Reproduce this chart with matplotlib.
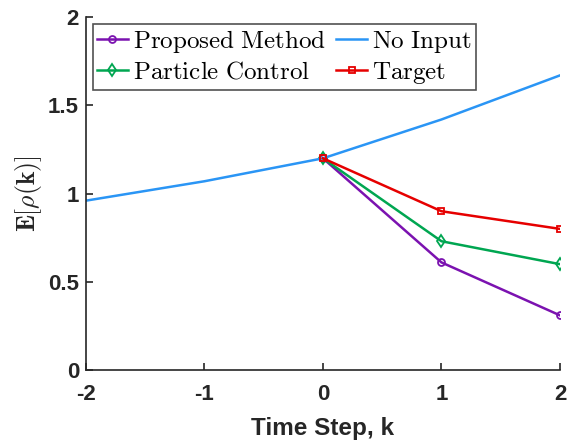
import numpy as np
import matplotlib
matplotlib.use('Agg')
import matplotlib.pyplot as plt

plt.rcParams['mathtext.fontset'] = 'cm'

steps_hist = [-2, -1, 0, 1, 2]
no_input = [0.96, 1.07, 1.20, 1.42, 1.67]

steps = [0, 1, 2]
proposed = [1.20, 0.61, 0.31]
particle = [1.20, 0.73, 0.60]
target = [1.20, 0.90, 0.80]

fig = plt.figure(figsize=(5.69, 4.4), dpi=100)
ax = fig.add_axes([0.1511, 0.159, 0.833, 0.802])

ax.plot(steps, proposed, color='#7B12B0', lw=1.8, marker='o', ms=5, mfc='none', mew=1.3,
        label=r'$\mathrm{Proposed\ Method}$')
ax.plot(steps, particle, color='#00A651', lw=1.8, marker='d', ms=6, mfc='none', mew=1.3,
        label=r'$\mathrm{Particle\ Control}$')
ax.plot(steps_hist, no_input, color='#2A95F5', lw=1.8, label=r'$\mathrm{No\ Input}$')
ax.plot(steps, target, color='#E60000', lw=1.8, marker='s', ms=5, mfc='none', mew=1.3,
        label=r'$\mathrm{Target}$')

ax.set_xlim(-2, 2)
ax.set_ylim(0, 2)
ax.set_xticks([-2, -1, 0, 1, 2])
ax.set_yticks([0, 0.5, 1, 1.5, 2])
ax.set_xticklabels(['-2', '-1', '0', '1', '2'])
ax.set_yticklabels(['0', '0.5', '1', '1.5', '2'])
for lab in ax.get_xticklabels() + ax.get_yticklabels():
    lab.set_fontfamily('Liberation Sans')
    lab.set_fontweight('bold')
    lab.set_fontsize(16)
ax.tick_params(direction='in', length=5, width=1.2, colors='#262626')
ax.tick_params(axis='x', pad=10)
ax.tick_params(axis='y', pad=5)
ax.spines['top'].set_visible(False)
ax.spines['right'].set_visible(False)
for s in ['left', 'bottom']:
    ax.spines[s].set_linewidth(1.2)
    ax.spines[s].set_color('#262626')

ax.set_xlabel('Time Step, k', fontfamily='Liberation Sans', fontweight='bold', fontsize=17.5,
              color='#262626', labelpad=9)
ax.set_ylabel(r'$\mathbf{E}[\rho(\mathbf{k})]$', fontsize=18.5, color='#262626', labelpad=3)

leg = ax.legend(ncol=2, loc='upper left', bbox_to_anchor=(0.015, 0.98), fontsize=18,
                frameon=True, fancybox=False, edgecolor='#262626', handlelength=1.25,
                handletextpad=0.2, columnspacing=0.4, labelspacing=0.2, borderpad=0.15,
                borderaxespad=0.0)
leg.get_frame().set_linewidth(1.2)

fig.savefig('out.png', dpi=100)
